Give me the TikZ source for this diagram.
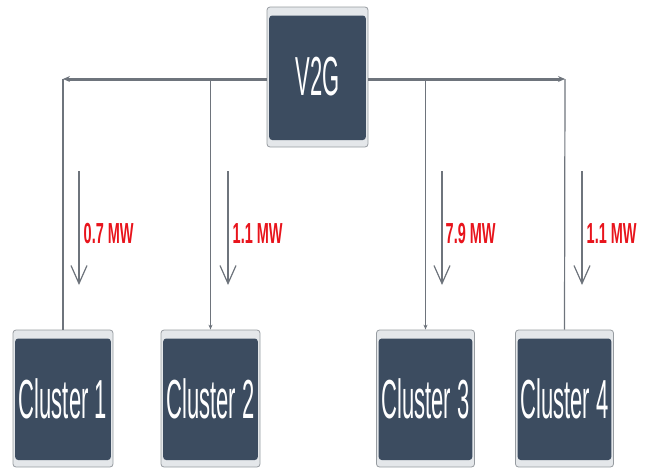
\documentclass[tikz,border=0pt]{standalone}
\usepackage{fontspec}
\setmainfont{Liberation Sans}
\usetikzlibrary{arrows.meta}
\definecolor{boxdark}{RGB}{60,76,96}
\definecolor{framegray}{RGB}{228,231,234}
\definecolor{framedraw}{RGB}{150,155,160}
\definecolor{linegray}{RGB}{110,116,124}
\definecolor{labelred}{RGB}{232,20,28}
\newcommand{\boxtext}[1]{\scalebox{0.4}[1]{\fontsize{55}{55}\selectfont #1}}
\newcommand{\mwtext}[1]{\scalebox{0.5}[1]{\fontsize{29}{29}\selectfont\bfseries #1}}
\begin{document}
\begin{tikzpicture}[x=1pt,y=-1pt,
  darkbox/.style={draw=framedraw, line width=0.8pt, fill=framegray, rounded corners=3pt,
    text=white, inner sep=0pt, minimum width=100pt, minimum height=137pt,
    path picture={\fill[boxdark] ([xshift=2.2pt,yshift=-8.5pt]path picture bounding box.north west)
      rectangle ([xshift=-2.2pt,yshift=7pt]path picture bounding box.south east);}},
  busline/.style={draw=linegray, line width=3pt},
  dropline/.style={draw=linegray, line width=1.2pt},
  flowarrow/.style={draw=linegray, line width=1.2pt, -{Straight Barb[length=18pt,width=16pt]}},
  mwlabel/.style={text=labelred, anchor=west, inner sep=0pt}]
\useasboundingbox (0,0) rectangle (646,474);

\node[darkbox, minimum width=101pt, minimum height=140pt] (v2g) at (317.5,77) {\boxtext{V2G}};
\node[darkbox] (c1) at (63,398.5) {\boxtext{Cluster 1}};
\node[darkbox, minimum width=99pt] (c2) at (210.5,398.5) {\boxtext{Cluster 2}};
\node[darkbox, minimum width=98pt] (c3) at (425.5,398.5) {\boxtext{Cluster 3}};
\node[darkbox, minimum width=98pt] (c4) at (564.5,398.5) {\boxtext{Cluster 4}};

\coordinate (h1) at (63,79);
\coordinate (h4) at (565,79);

% bus lines
\draw[busline, -{Stealth[length=7pt,width=6pt]}] (v2g.west |- h1) -- (h1);
\draw[busline, -{Stealth[length=7pt,width=6pt]}] (v2g.east |- h4) -- (h4);
\draw[dropline] (h1) -- (c1.north);
\draw[dropline] (h4) -- (c4.north);
\draw[dropline, -{Stealth[length=5pt,width=4pt]}] (c2.north |- h1) -- (c2.north);
\draw[dropline, -{Stealth[length=5pt,width=4pt]}] (c3.north |- h1) -- (c3.north);

% flow arrows
\coordinate (a1s) at (79,171); \coordinate (a1e) at (79,285);
\coordinate (a2s) at (228,171); \coordinate (a2e) at (228,285);
\coordinate (a3s) at (442,171); \coordinate (a3e) at (442,285);
\coordinate (a4s) at (582,171); \coordinate (a4e) at (582,285);
\draw[flowarrow] (a1s) -- (a1e);
\draw[flowarrow] (a2s) -- (a2e);
\draw[flowarrow] (a3s) -- (a3e);
\draw[flowarrow] (a4s) -- (a4e);

\node[mwlabel] (l1) at (83.5,234) {\mwtext{0.7 MW}};
\node[mwlabel] (l2) at (232.5,234) {\mwtext{1.1 MW}};
\node[mwlabel] (l3) at (445.5,234) {\mwtext{7.9 MW}};
\node[mwlabel] (l4) at (586.5,234) {\mwtext{1.1 MW}};
\end{tikzpicture}
\end{document}
